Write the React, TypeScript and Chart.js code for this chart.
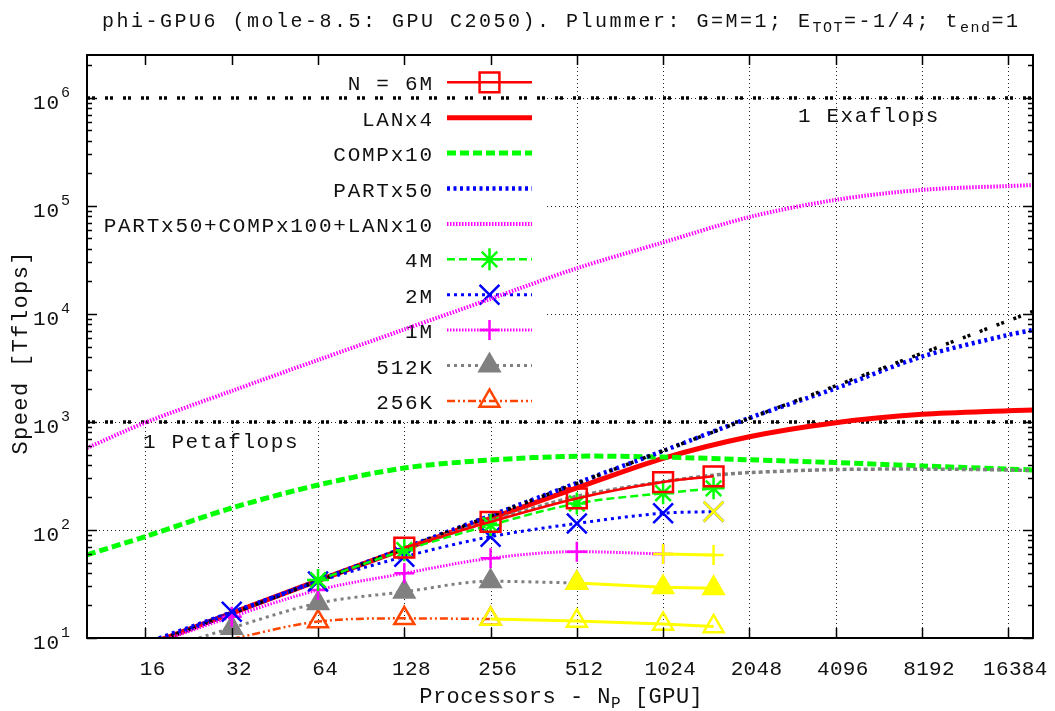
import React, { useEffect, useRef } from "react";
import { Chart, registerables } from "chart.js";

Chart.register(...registerables);

const FONT = '"Liberation Mono", "DejaVu Sans Mono", monospace';

// ---------- axes ----------
const X_MIN = 10;
const X_MAX = 20000;
const Y_MIN = 10;
const Y_MAX = 2.5e6;
const xTickValues = [16, 32, 64, 128, 256, 512, 1024, 2048, 4096, 8192, 16384];
const xTickLabels = ["16", "32", "64", "128", "256", "512", "1024", "2048", "4096", "8192", "16384"];
const yTickValues = [10, 100, 1000, 10000, 100000, 1000000];
const yTickBase = "10";
const yTickExponents = ["1", "2", "3", "4", "5", "6"];

// ---------- texts ----------
const titleSegments = [
  { t: "phi-GPU6 (mole-8.5: GPU C2050). Plummer: G=M=1; E" },
  { t: "TOT", sub: true },
  { t: "=-1/4; t" },
  { t: "end", sub: true },
  { t: "=1" },
];
const xTitleSegments = [{ t: "Processors - N" }, { t: "P", sub: true }, { t: " [GPU]" }];
const yTitle = "Speed [Tflops]";
const petaLabel = "1 Petaflops";
const exaLabel = "1 Exaflops";
const legendLabels = [
  "N = 6M",
  "LANx4",
  "COMPx10",
  "PARTx50",
  "PARTx50+COMPx100+LANx10",
  "4M",
  "2M",
  "1M",
  "512K",
  "256K",
];

// ---------- model curves ----------
const modelN = [10, 16, 32, 64, 128, 256, 512, 1024, 2048, 4096, 8192, 16384, 20000];
const lanX4 = [5.3, 8.5, 17, 34, 67, 128, 245, 461, 731, 986, 1178, 1273, 1290];
const compX10 = [59, 87, 160, 261, 375, 445, 482, 473, 447, 421, 392, 366, 360];
const partX50 = [5.3, 8.5, 17, 34, 68, 136, 272, 540, 1090, 2050, 4030, 6400, 7100];
const partCompLan = [575, 990, 1940, 3750, 7200, 13800, 26500, 46000, 79000, 114000, 141000, 153000, 156000];
const idealN = [10, 20000];
const idealSpeed = [5.28, 10560];
const levelN = [10, 20000];
const petaflops = [1000, 1000];
const exaflops = [1000000, 1000000];
const fit6mN = [128, 256, 512, 1024, 1536, 2048, 4096, 8192, 16384, 20000];
const fit6m = [68, 121, 205, 280, 322, 340, 363, 366, 360, 355];

// ---------- measurements ----------
const n6M = [128, 256, 512, 1024, 1536];
const speed6M = [68.6, 119, 196, 278, 314];
const n4M = [64, 128, 256, 512, 1024, 1536];
const speed4M = [34.4, 65, 111, 176, 219, 243];
const n2M = [16, 32, 64, 128, 256, 512, 1024, 1536];
const speed2M = [9.1, 17.5, 33.3, 56.6, 86.7, 115, 143, 148];
const n1M = [16, 32, 64, 128, 256, 512, 1024];
const speed1M = [8.3, 15.7, 27.8, 39.7, 54.7, 63, 60];
const n512K = [16, 32, 64, 128, 256, 512];
const speed512K = [7.0, 12.4, 21, 26.8, 33.5, 32.3];
const n256K = [32, 64, 128, 256];
const speed256K = [9.8, 14.2, 15.2, 15.0];
// additional runs (yellow)
const nY2M = [1536];
const speedY2M = [148];
const nY1M = [1024, 1536];
const speedY1M = [60, 58.8];
const nY512K = [512, 1024, 1536];
const speedY512K = [32.3, 29.5, 28.9];
const nY256K = [256, 512, 1024, 1536];
const speedY256K = [15.0, 14.4, 13.5, 12.8];

// ---------- styles ----------
const CLEAR = "rgba(0,0,0,0)";
const YELLOW = "#ffff00";
const BLACK_DOT = [3, 2, 3, 10];
const st: any = {
  level: { color: "#000000", width: 3.5, dash: BLACK_DOT },
  lan: { color: "#ff0000", width: 5, dash: [] },
  comp: { color: "#00ff00", width: 5, dash: [9, 4] },
  part: { color: "#0000ff", width: 4.5, dash: [3, 3.5] },
  combo: { color: "#ff00ff", width: 4, dash: [1.5, 1.5] },
  fit: { color: "#808080", width: 3.5, dash: [4, 3] },
  d6M: { color: "#ff0000", width: 2.5, dash: [], marker: "rect", r: 14, fill: CLEAR },
  d4M: { color: "#00ff00", width: 2.5, dash: [8, 4], marker: "star", r: 11 },
  d2M: { color: "#0000ff", width: 3, dash: [3, 4], marker: "crossRot", r: 14 },
  d1M: { color: "#ff00ff", width: 3, dash: [1.5, 1.5], marker: "cross", r: 10 },
  d512K: { color: "#808080", width: 3, dash: [3, 4], marker: "triangle", r: 11.5, fill: "#808080" },
  d256K: { color: "#ff4500", width: 2.5, dash: [8, 3, 2, 3, 2, 3], marker: "triangle", r: 11.5, fill: CLEAR },
  y2M: { color: YELLOW, width: 3, dash: [], marker: "crossRot", r: 14 },
  y1M: { color: YELLOW, width: 3, dash: [], marker: "cross", r: 10 },
  y512K: { color: YELLOW, width: 3, dash: [], marker: "triangle", r: 11.5, fill: YELLOW },
  y256K: { color: YELLOW, width: 3, dash: [], marker: "triangle", r: 11.5, fill: CLEAR },
};
const legendStyles = [st.d6M, st.lan, st.comp, st.part, st.combo, st.d4M, st.d2M, st.d1M, st.d512K, st.d256K];

const KEY_BOX = { left: 87, top: 55, right: 545, bottom: 420 };
const TEXT_COLOR = "#111111";

// smoothing: "spline" = tension spline, "mono" = monotone cubic, "none" = straight
function ds(xs: number[], ys: number[], s: any, smooth: string) {
  return {
    data: xs.map((x, i) => ({ x, y: ys[i] })),
    borderColor: s.color,
    backgroundColor: s.color,
    borderWidth: s.width,
    borderDash: s.dash,
    borderCapStyle: "butt",
    borderJoinStyle: "round",
    pointStyle: s.marker || "circle",
    pointRadius: s.marker ? (c: any) => (c.raw && c.raw.y >= Y_MIN ? s.r : 0) : 0,
    pointHoverRadius: 0,
    pointBorderColor: s.color,
    pointBackgroundColor: s.fill !== undefined ? s.fill : s.color,
    pointBorderWidth: 2.5,
    cubicInterpolationMode: smooth === "mono" ? "monotone" : "default",
    tension: smooth === "spline" ? 0.3 : 0,
    fill: false,
  };
}

function setFont(ctx: any, size: number, spacing: number) {
  ctx.font = `${size}px ${FONT}`;
  ctx.letterSpacing = `${spacing}px`;
}

function drawText(ctx: any, text: string, x: number, y: number, size: number, spacing: number, align: string) {
  setFont(ctx, size, spacing);
  ctx.textAlign = "left";
  ctx.textBaseline = "alphabetic";
  const w = ctx.measureText(text).width - spacing;
  let sx = x;
  if (align === "right") sx = x - w;
  else if (align === "center") sx = x - w / 2;
  ctx.fillText(text, sx, y);
  ctx.letterSpacing = "0px";
}

function drawRich(
  ctx: any,
  segs: { t: string; sub?: boolean }[],
  x: number,
  y: number,
  size: number,
  spacing: number,
  subSize: number,
  subSpacing: number,
  subShift: number
) {
  ctx.textAlign = "left";
  ctx.textBaseline = "alphabetic";
  const widths = segs.map((s) => {
    if (s.sub) setFont(ctx, subSize, subSpacing);
    else setFont(ctx, size, spacing);
    return ctx.measureText(s.t).width;
  });
  const total = widths.reduce((a, b) => a + b, 0) - spacing;
  let cx = x - total / 2;
  segs.forEach((s, i) => {
    if (s.sub) setFont(ctx, subSize, subSpacing);
    else setFont(ctx, size, spacing);
    ctx.fillText(s.t, cx, y + (s.sub ? subShift : 0));
    cx += widths[i];
  });
  ctx.letterSpacing = "0px";
}

function drawMarker(ctx: any, s: any, x: number, y: number) {
  const r = s.r;
  ctx.save();
  ctx.setLineDash([]);
  ctx.strokeStyle = s.color;
  ctx.fillStyle = s.fill !== undefined ? s.fill : s.color;
  ctx.lineWidth = 2.5;
  ctx.beginPath();
  const d = r * Math.SQRT1_2;
  switch (s.marker) {
    case "rect":
      ctx.rect(x - d, y - d, 2 * d, 2 * d);
      break;
    case "cross":
      ctx.moveTo(x, y - r);
      ctx.lineTo(x, y + r);
      ctx.moveTo(x - r, y);
      ctx.lineTo(x + r, y);
      break;
    case "crossRot":
      ctx.moveTo(x - d, y - d);
      ctx.lineTo(x + d, y + d);
      ctx.moveTo(x + d, y - d);
      ctx.lineTo(x - d, y + d);
      break;
    case "star":
      ctx.moveTo(x, y - r);
      ctx.lineTo(x, y + r);
      ctx.moveTo(x - r, y);
      ctx.lineTo(x + r, y);
      ctx.moveTo(x - d, y - d);
      ctx.lineTo(x + d, y + d);
      ctx.moveTo(x + d, y - d);
      ctx.lineTo(x - d, y + d);
      break;
    case "triangle":
      ctx.moveTo(x, y - r);
      ctx.lineTo(x + r * 0.866, y + r * 0.5);
      ctx.lineTo(x - r * 0.866, y + r * 0.5);
      ctx.closePath();
      ctx.fill();
      break;
  }
  ctx.stroke();
  ctx.restore();
}

const gnuplotPlugin = {
  id: "gnuplotLook",
  beforeDatasetsDraw(chart: any) {
    const { ctx, chartArea: ca, scales } = chart;
    const xs = scales.x;
    const ys = scales.y;
    // grid (not crossing the key)
    ctx.save();
    ctx.beginPath();
    ctx.rect(ca.left, ca.top, ca.right - ca.left, ca.bottom - ca.top);
    ctx.rect(KEY_BOX.left, KEY_BOX.top, KEY_BOX.right - KEY_BOX.left, KEY_BOX.bottom - KEY_BOX.top);
    ctx.clip("evenodd");
    ctx.strokeStyle = "rgba(0,0,0,0.85)";
    ctx.lineWidth = 1;
    ctx.setLineDash([1, 3]);
    ctx.beginPath();
    xTickValues.forEach((v) => {
      const px = Math.round(xs.getPixelForValue(v)) + 0.5;
      ctx.moveTo(px, ca.top);
      ctx.lineTo(px, ca.bottom);
    });
    yTickValues.forEach((v) => {
      const py = Math.round(ys.getPixelForValue(v)) + 0.5;
      ctx.moveTo(ca.left, py);
      ctx.lineTo(ca.right, py);
    });
    ctx.stroke();
    ctx.restore();

    // key
    ctx.save();
    legendLabels.forEach((label, i) => {
      const y = 82.3 + i * 35.4;
      const s = legendStyles[i];
      ctx.fillStyle = TEXT_COLOR;
      drawText(ctx, label, 432, y + 8, 21, 1.75, "right");
      ctx.save();
      ctx.strokeStyle = s.color;
      ctx.lineWidth = s.width;
      ctx.lineCap = "butt";
      ctx.setLineDash(s.dash);
      ctx.beginPath();
      ctx.moveTo(447, y);
      ctx.lineTo(532, y);
      ctx.stroke();
      ctx.restore();
      if (s.marker) drawMarker(ctx, s, 489.5, y);
    });
    ctx.restore();
  },
  afterDatasetsDraw(chart: any) {
    const { ctx } = chart;
    ctx.save();
    ctx.fillStyle = TEXT_COLOR;
    drawText(ctx, petaLabel, 143, 448, 21, 1.6, "left");
    drawText(ctx, exaLabel, 798, 122, 21, 1.6, "left");
    ctx.restore();
  },
  afterDraw(chart: any) {
    const { ctx, chartArea: ca, scales } = chart;
    const xs = scales.x;
    const ys = scales.y;
    ctx.save();
    ctx.setLineDash([]);
    ctx.strokeStyle = "#000";
    // ticks
    ctx.lineWidth = 1.5;
    ctx.beginPath();
    xTickValues.forEach((v) => {
      const px = Math.round(xs.getPixelForValue(v)) + 0.5;
      ctx.moveTo(px, ca.bottom);
      ctx.lineTo(px, ca.bottom - 10);
      ctx.moveTo(px, ca.top);
      ctx.lineTo(px, ca.top + 10);
    });
    for (let dec = 10; dec <= Y_MAX; dec *= 10) {
      for (let k = 1; k <= 9; k++) {
        const v = dec * k;
        if (v > Y_MAX) break;
        const py = Math.round(ys.getPixelForValue(v)) + 0.5;
        const len = k === 1 ? 10 : 5;
        ctx.moveTo(ca.left, py);
        ctx.lineTo(ca.left + len, py);
        ctx.moveTo(ca.right, py);
        ctx.lineTo(ca.right - len, py);
      }
    }
    ctx.stroke();
    // border
    ctx.lineWidth = 2;
    ctx.strokeRect(ca.left, ca.top, ca.right - ca.left, ca.bottom - ca.top);

    // tick labels
    ctx.fillStyle = TEXT_COLOR;
    xTickValues.forEach((v, i) => {
      const px = xs.getPixelForValue(v);
      drawText(ctx, xTickLabels[i], px + 7, 675, 21, 0.3, "center");
    });
    yTickValues.forEach((v, i) => {
      const py = ys.getPixelForValue(v);
      drawText(ctx, yTickBase, 59, py + 11, 21, 0.8, "right");
      drawText(ctx, yTickExponents[i], 61, py - 1, 15, 0, "left");
    });

    // title and axis titles
    drawRich(ctx, titleSegments, 560, 27, 20, 2.5, 15, 1.5, 5);
    drawRich(ctx, xTitleSegments, 561, 703, 22, 0.5, 16, 0.5, 5);
    ctx.save();
    ctx.translate(27, 353);
    ctx.rotate(-Math.PI / 2);
    drawText(ctx, yTitle, 0, 0, 22, 1.4, "center");
    ctx.restore();
    ctx.restore();
  },
};

function buildConfig(): any {
  const datasets = [
    ds(levelN, exaflops, st.level, "none"),
    ds(levelN, petaflops, st.level, "none"),
    ds(modelN, lanX4, st.lan, "spline"),
    ds(modelN, compX10, st.comp, "spline"),
    ds(modelN, partX50, st.part, "spline"),
    ds(modelN, partCompLan, st.combo, "spline"),
    ds(idealN, idealSpeed, st.level, "none"),
    ds(fit6mN, fit6m, st.fit, "spline"),
    ds(n256K, speed256K, st.d256K, "mono"),
    ds(n512K, speed512K, st.d512K, "mono"),
    ds(n1M, speed1M, st.d1M, "mono"),
    ds(n2M, speed2M, st.d2M, "mono"),
    ds(n4M, speed4M, st.d4M, "mono"),
    ds(n6M, speed6M, st.d6M, "mono"),
    ds(nY256K, speedY256K, st.y256K, "none"),
    ds(nY512K, speedY512K, st.y512K, "none"),
    ds(nY1M, speedY1M, st.y1M, "none"),
    ds(nY2M, speedY2M, st.y2M, "none"),
  ].map((d, i) => ({ ...d, order: -i }));

  return {
    type: "line",
    data: { datasets },
    options: {
      animation: false,
      responsive: false,
      maintainAspectRatio: false,
      devicePixelRatio: 1,
      events: [],
      layout: { padding: { left: 87, right: 22, top: 55, bottom: 73 } },
      scales: {
        x: { type: "logarithmic", min: X_MIN, max: X_MAX, display: false },
        y: { type: "logarithmic", min: Y_MIN, max: Y_MAX, display: false },
      },
      plugins: {
        legend: { display: false },
        tooltip: { enabled: false },
        title: { display: false },
      },
    },
    plugins: [gnuplotPlugin],
  };
}

export default function App() {
  const ref = useRef<HTMLCanvasElement>(null);
  useEffect(() => {
    const canvas = ref.current;
    if (!canvas) return;
    const chart = new Chart(canvas, buildConfig());
    return () => chart.destroy();
  }, []);
  return (
    <div style={{ position: "absolute", left: 0, top: 0, width: 1055, height: 711, background: "#ffffff" }}>
      <canvas ref={ref} width={1055} height={711} style={{ display: "block", width: 1055, height: 711 }} />
    </div>
  );
}
